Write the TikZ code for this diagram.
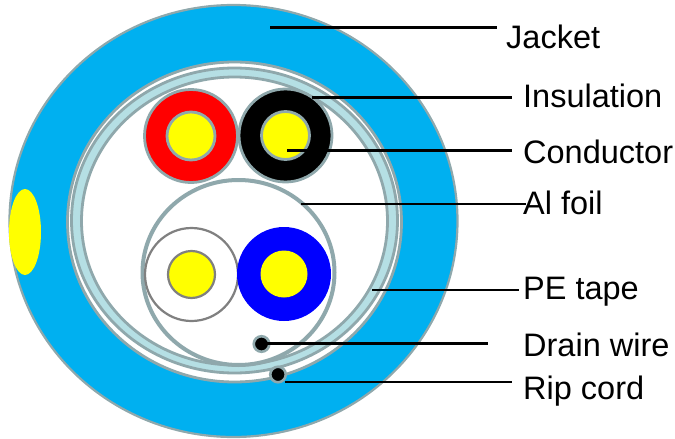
\documentclass[tikz,border=0pt]{standalone}
\usepackage{fontspec}
\setmainfont{Liberation Sans}
\definecolor{jacketblue}{HTML}{00B0F0}
\definecolor{ringgrey}{HTML}{8FA8AC}
\definecolor{tapeblue}{HTML}{B5DFE4}
\definecolor{coreyellow}{HTML}{FFFF00}
\tikzset{
  lbl/.style={anchor=base west,inner sep=0pt,font=\fontsize{32.5}{32.5}\selectfont},
  leader/.style={draw=black,line width=2.8pt},
  rim/.style={draw=ringgrey,line width=2.8pt},
  wirept/.style={circle,draw=ringgrey,line width=2.6pt,fill=black,minimum size=15.5pt,inner sep=0pt},
}
\begin{document}
\begin{tikzpicture}[x=1pt,y=-1pt]
\useasboundingbox (0,0) rectangle (675,439);
% jacket
\path[rim,fill=jacketblue,line width=2.2pt] (233.5,221) ellipse [x radius=224,y radius=216];
\path[fill=coreyellow] (25,232) ellipse [x radius=16,y radius=43];
% cavity and PE tape
\path[rim,fill=white] (234.5,222) ellipse [x radius=167,y radius=160];
\path[rim,fill=tapeblue] (234.5,220.5) ellipse [x radius=163,y radius=152.5];
\path[rim,fill=white] (234.5,221) ellipse [x radius=153,y radius=144];
% Al foil
\path[rim,line width=4pt,fill=white] (238.5,272.5) ellipse [x radius=96,y radius=92.5];
% conductors
\path[rim,fill=red] (191,136) circle [radius=46.5];
\path[rim,fill=coreyellow] (191,136) circle [radius=24];
\path[rim,fill=black] (285.5,135.5) circle [radius=46.5];
\path[rim,fill=coreyellow] (285.5,135.5) circle [radius=24];
\path[draw=gray,line width=2.2pt,fill=white] (191.5,274.5) circle [radius=46.5];
\path[draw=gray,line width=2.2pt,fill=coreyellow] (191.5,274.5) circle [radius=23.5];
\path[fill=blue] (284,274) circle [radius=47];
\path[fill=coreyellow] (284,274) circle [radius=23.5];
% drain wire and rip cord
\node[wirept] (drain) at (261.5,344) {};
\node[wirept] (rip) at (278,374.5) {};
% labels
\node[lbl] (ljacket) at (506,48) {Jacket};
\node[lbl] (linsul) at (523,107) {Insulation};
\node[lbl] (lcond) at (523,163) {Conductor};
\node[lbl] (lfoil) at (523,214.5) {Al foil};
\node[lbl] (ltape) at (523,299.5) {PE tape};
\node[lbl] (ldrain) at (523,356) {Drain wire};
\node[lbl] (lrip) at (523,399) {Rip cord};
% leader ends
\coordinate (ajacket) at (270,27.5);  \coordinate (bjacket) at (497,27.5);
\coordinate (ainsul) at (312,97.5);   \coordinate (binsul) at (512,97.5);
\coordinate (acond) at (287,150.5);   \coordinate (bcond) at (512,150.5);
\coordinate (afoil) at (301,204);     \coordinate (bfoil) at (526,204);
\coordinate (atape) at (372,290);     \coordinate (btape) at (519,290);
\coordinate (adrain) at (262,343.5);  \coordinate (bdrain) at (488,343.5);
\coordinate (arip) at (285,382);      \coordinate (brip) at (512,382);
\foreach \n in {jacket,insul,cond,foil,tape,drain,rip}
  \draw[leader] (a\n) -- (b\n);
\end{tikzpicture}
\end{document}
